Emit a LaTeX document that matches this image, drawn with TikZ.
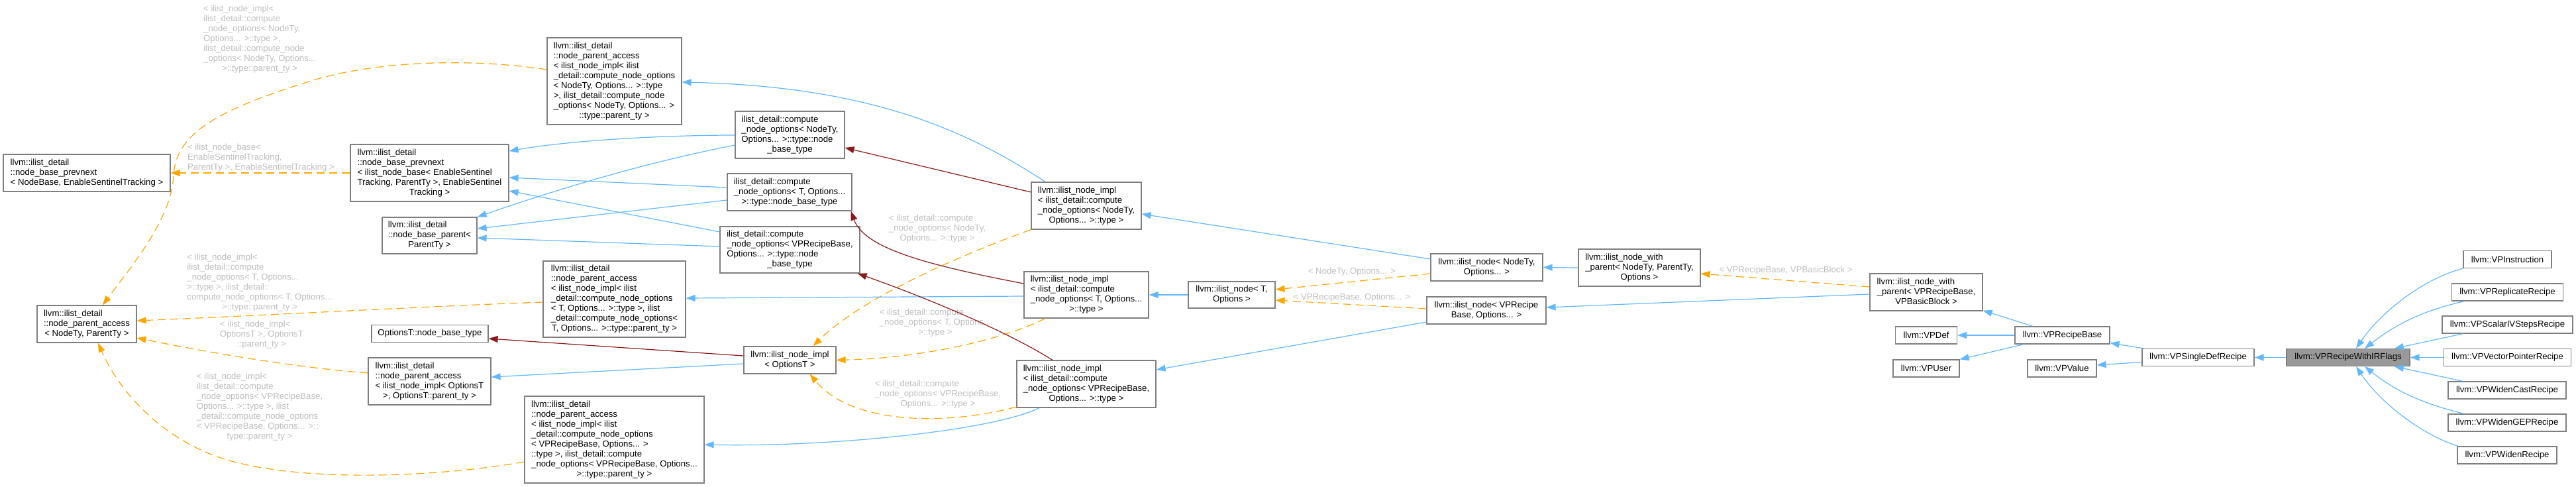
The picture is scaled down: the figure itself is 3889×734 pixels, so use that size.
\documentclass[tikz,border=0pt]{standalone}
\usepackage{fontspec}
\setmainfont{Liberation Sans}
\usetikzlibrary{arrows.meta,calc}
\definecolor{pubblue}{HTML}{63B8FF}
\definecolor{privred}{HTML}{8B1A1A}
\definecolor{tplorange}{HTML}{FFA500}
\definecolor{boxgray}{HTML}{7F7F7F}
\definecolor{rootfill}{HTML}{999999}
\definecolor{labgray}{HTML}{BEBEBE}
\newcommand{\dfont}{\fontsize{13.2}{15}\selectfont}
\newcommand{\mytab}[1]{\begin{tabular}{@{}l@{}}#1\end{tabular}}
\newcommand{\lcen}[1]{\multicolumn{1}{@{}c@{}}{#1}}
\tikzset{
  cls/.style={draw=boxgray, fill=white, line width=1.2pt, font=\dfont, inner sep=0pt, text=black},
  rootcls/.style={cls, fill=rootfill},
  lab/.style={font=\dfont, text=labgray, inner sep=0pt},
  pub/.style={draw=pubblue, line width=1.2pt, -{Triangle[length=14pt,width=10pt]}},
  priv/.style={draw=privred, line width=1.2pt, -{Triangle[length=14pt,width=10pt]}},
  tpl/.style={draw=tplorange, line width=1.2pt, dash pattern=on 12pt off 7pt, -{Triangle[length=14pt,width=10pt]}}
}
\begin{document}
\begin{tikzpicture}[x=1pt,y=-1pt]
\fill[white] (0,0) rectangle (3889,734);
\path[use as bounding box] (0,0) rectangle (3889,734);

% ---------- nodes ----------
\node[cls,minimum width=252,minimum height=56] (pn0) at (131,261) {\mytab{llvm::ilist\_detail\\::node\_base\_prevnext\\\lcen{< NodeBase, EnableSentinelTracking >}}};
\node[cls,minimum width=150,minimum height=56] (npa0) at (131,489) {\mytab{llvm::ilist\_detail\\::node\_parent\_access\\\lcen{< NodeTy, ParentTy >}}};
\node[cls,minimum width=239,minimum height=86] (pnI) at (648.5,261) {\mytab{llvm::ilist\_detail\\::node\_base\_prevnext\\< ilist\_node\_base< EnableSentinel\\Tracking, ParentTy >, EnableSentinel\\\lcen{Tracking >}}};
\node[cls,minimum width=143,minimum height=55] (nbp) at (648.5,355.5) {\mytab{llvm::ilist\_detail\\::node\_base\_parent<\\\lcen{ParentTy >}}};
\node[cls,minimum width=176,minimum height=26] (onbt) at (649,503.5) {OptionsT::node\_base\_type};
\node[cls,minimum width=185,minimum height=71] (npaO) at (648.5,575.5) {\mytab{llvm::ilist\_detail\\::node\_parent\_access\\< ilist\_node\_impl< OptionsT\\\lcen{>, OptionsT::parent\_ty >}}};
\node[cls,minimum width=203,minimum height=131] (npaN) at (927.5,122.5) {\mytab{llvm::ilist\_detail\\::node\_parent\_access\\< ilist\_node\_impl< ilist\\\_detail::compute\_node\_options\\< NodeTy, Options... >::type\\ >, ilist\_detail::compute\_node\\\_options< NodeTy, Options... >\\\lcen{::type::parent\_ty >}}};
\node[cls,minimum width=215,minimum height=115] (npaT) at (927.5,451.5) {\mytab{llvm::ilist\_detail\\::node\_parent\_access\\< ilist\_node\_impl< ilist\\\_detail::compute\_node\_options\\< T, Options... >::type >, ilist\\\_detail::compute\_node\_options<\\\lcen{T, Options... >::type::parent\_ty >}}};
\node[cls,minimum width=271,minimum height=131] (npaV) at (927.5,663.5) {\mytab{llvm::ilist\_detail\\::node\_parent\_access\\< ilist\_node\_impl< ilist\\\_detail::compute\_node\_options\\< VPRecipeBase, Options... >\\::type >, ilist\_detail::compute\\\_node\_options< VPRecipeBase, Options...\\\lcen{>::type::parent\_ty >}}};
\node[cls,minimum width=165,minimum height=71] (nbtN) at (1192.5,203.5) {\mytab{ilist\_detail::compute\\\_node\_options< NodeTy,\\Options... >::type::node\\\lcen{\_base\_type}}};
\node[cls,minimum width=188,minimum height=56] (nbtT) at (1192,290) {\mytab{ilist\_detail::compute\\\_node\_options< T, Options...\\\lcen{>::type::node\_base\_type}}};
\node[cls,minimum width=211,minimum height=70] (nbtV) at (1192.5,377) {\mytab{ilist\_detail::compute\\\_node\_options< VPRecipeBase,\\Options... >::type::node\\\lcen{\_base\_type}}};
\node[cls,minimum width=139,minimum height=41] (implO) at (1192.5,543.5) {\mytab{llvm::ilist\_node\_impl\\\lcen{< OptionsT >}}};
\node[cls,minimum width=166,minimum height=71] (implN) at (1640,310.5) {\mytab{llvm::ilist\_node\_impl\\< ilist\_detail::compute\\\_node\_options< NodeTy,\\\lcen{Options... >::type >}}};
\node[cls,minimum width=188,minimum height=70] (implT) at (1640,445) {\mytab{llvm::ilist\_node\_impl\\< ilist\_detail::compute\\\_node\_options< T, Options...\\\lcen{>::type >}}};
\node[cls,minimum width=210,minimum height=71] (implV) at (1640,579.5) {\mytab{llvm::ilist\_node\_impl\\< ilist\_detail::compute\\\_node\_options< VPRecipeBase,\\\lcen{Options... >::type >}}};
\node[cls,minimum width=131,minimum height=40] (nodeT) at (1859.5,445) {\mytab{llvm::ilist\_node< T,\\\lcen{Options >}}};
\node[cls,minimum width=169,minimum height=41] (nodeN) at (2244.5,403.5) {\mytab{llvm::ilist\_node< NodeTy,\\\lcen{Options... >}}};
\node[cls,minimum width=180,minimum height=41] (nodeV) at (2244,468.5) {\mytab{llvm::ilist\_node< VPRecipe\\\lcen{Base, Options... >}}};
\node[cls,minimum width=184,minimum height=56] (nwpT) at (2475,404) {\mytab{llvm::ilist\_node\_with\\\_parent< NodeTy, ParentTy,\\\lcen{Options >}}};
\node[cls,minimum width=170,minimum height=56] (nwpV) at (2908,441) {\mytab{llvm::ilist\_node\_with\\\_parent< VPRecipeBase,\\\lcen{VPBasicBlock >}}};
\node[cls,minimum width=93,minimum height=26] (vpdef) at (2908,506) {llvm::VPDef};
\node[cls,minimum width=100,minimum height=26] (vpuser) at (2908,556) {llvm::VPUser};
\node[cls,minimum width=143,minimum height=26] (vprb) at (3113.5,506) {llvm::VPRecipeBase};
\node[cls,minimum width=104,minimum height=26] (vpvalue) at (3113,556) {llvm::VPValue};
\node[cls,minimum width=169,minimum height=26] (vpsdr) at (3318.5,539.5) {llvm::VPSingleDefRecipe};
\node[rootcls,minimum width=186,minimum height=26] (vprwirf) at (3545,539.5) {llvm::VPRecipeWithIRFlags};
\node[cls,minimum width=133,minimum height=26] (c1) at (3785.5,391.5) {llvm::VPInstruction};
\node[cls,minimum width=168,minimum height=26] (c2) at (3785.5,441) {llvm::VPReplicateRecipe};
\node[cls,minimum width=197,minimum height=26] (c3) at (3785.5,490) {llvm::VPScalarIVStepsRecipe};
\node[cls,minimum width=192,minimum height=26] (c4) at (3785.5,539.5) {llvm::VPVectorPointerRecipe};
\node[cls,minimum width=178,minimum height=26] (c5) at (3785,589) {llvm::VPWidenCastRecipe};
\node[cls,minimum width=178,minimum height=26] (c6) at (3785,638) {llvm::VPWidenGEPRecipe};
\node[cls,minimum width=150,minimum height=26] (c7) at (3785,687) {llvm::VPWidenRecipe};

% ---------- edge labels ----------
\node[lab] (l1) at (392,59) {\mytab{< ilist\_node\_impl<\\ilist\_detail::compute\\\_node\_options< NodeTy,\\Options... >::type >,\\ilist\_detail::compute\_node\\\_options< NodeTy, Options...\\\lcen{>::type::parent\_ty >}}};
\node[lab] (l2) at (394,238) {\mytab{< ilist\_node\_base<\\EnableSentinelTracking,\\\lcen{ParentTy >, EnableSentinelTracking >}}};
\node[lab] (l3) at (392,427) {\mytab{< ilist\_node\_impl<\\ilist\_detail::compute\\\_node\_options< T, Options...\\>::type >, ilist\_detail::\\compute\_node\_options< T, Options...\\\lcen{>::type::parent\_ty >}}};
\node[lab] (l4) at (395,505) {\mytab{< ilist\_node\_impl<\\OptionsT >, OptionsT\\\lcen{::parent\_ty >}}};
\node[lab] (l5) at (392,614) {\mytab{< ilist\_node\_impl<\\ilist\_detail::compute\\\_node\_options< VPRecipeBase,\\Options... >::type >, ilist\\\_detail::compute\_node\_options\\< VPRecipeBase, Options... >::\\\lcen{type::parent\_ty >}}};
\node[lab] (l20) at (1415,345) {\mytab{< ilist\_detail::compute\\\_node\_options< NodeTy,\\\lcen{Options... >::type >}}};
\node[lab] (l21) at (1412,487) {\mytab{< ilist\_detail::compute\\\_node\_options< T, Options...\\\lcen{>::type >}}};
\node[lab] (l22) at (1416,595) {\mytab{< ilist\_detail::compute\\\_node\_options< VPRecipeBase,\\\lcen{Options... >::type >}}};
\node[lab] (l25) at (2041,410) {< NodeTy, Options... >};
\node[lab] (l26) at (2041,449) {< VPRecipeBase, Options... >};
\node[lab] (l29) at (2696,408) {< VPRecipeBase, VPBasicBlock >};

% ---------- template instance edges (orange dashed) ----------
\draw[tpl] ($(npaN.west)+(0,-17.5)$) .. controls (700,86) and (560,94) .. (470,122)
  .. controls (320,168) and (265,205) .. (262,265)
  .. controls (259,330) and (200,400) .. ($(npa0.north)+(24,0)$);
\draw[tpl] (pnI.west) -- (pn0.east);
\draw[tpl] ($(npaT.west)+(0,4.5)$) .. controls (650,462) and (400,476) .. ($(npa0.east)+(0,-5)$);
\draw[tpl] ($(npaO.west)+(0,-12.5)$) .. controls (450,555) and (320,533) .. ($(npa0.east)+(0,21)$);
\draw[tpl] ($(npaV.west)+(0,33.5)$) .. controls (650,722) and (440,728) .. (330,690)
  .. controls (240,658) and (180,590) .. ($(npa0.south)+(17,0)$);
\draw[tpl] (implN.south west) .. controls (1450,385) and (1300,450) .. ($(implO.north)+(35,0)$);
\draw[tpl] ($(implT.south)+(-62,0)$) .. controls (1520,510) and (1400,540) .. (implO.east);
\draw[tpl] ($(implV.west)+(0,34.5)$) .. controls (1440,640) and (1290,645) .. ($(implO.south)+(30,0)$);
\draw[tpl] ($(nodeN.west)+(0,9.5)$) -- ($(nodeT.east)+(0,-8)$);
\draw[tpl] ($(nodeV.west)+(0,-2.5)$) -- ($(nodeT.east)+(0,8)$);
\draw[tpl] ($(nwpV.west)+(0,-8)$) -- ($(nwpT.east)+(0,9)$);

% ---------- public inheritance (blue) ----------
\draw[pub] ($(nbtN.west)+(0,0.5)$) .. controls (1000,204) and (860,212) .. ($(pnI.east)+(0,-33)$);
\draw[pub] ($(nbtN.west)+(0,15.5)$) .. controls (950,250) and (800,300) .. (nbp.north east);
\draw[pub] ($(nbtT.west)+(0,-7)$) -- ($(pnI.east)+(0,7)$);
\draw[pub] ($(nbtT.west)+(0,12)$) -- ($(nbp.east)+(0,-10.5)$);
\draw[pub] ($(nbtV.west)+(0,-27)$) -- ($(pnI.east)+(0,27)$);
\draw[pub] ($(nbtV.west)+(0,-5)$) -- ($(nbp.east)+(0,3.5)$);
\draw[pub] ($(implN.north)+(-62,0)$) .. controls (1450,190) and (1300,130) .. ($(npaN.east)+(0,1.5)$);
\draw[pub] ($(implO.west)+(0,5.5)$) -- ($(npaO.east)+(0,-6.5)$);
\draw[pub] ($(implT.west)+(0,2)$) -- ($(npaT.east)+(0,-1.5)$);
\draw[pub] ($(implV.south)+(-71,0)$) .. controls (1500,650) and (1250,675) .. ($(npaV.east)+(0,7.5)$);
\draw[pub] ($(nodeN.west)+(0,-12.5)$) -- ($(implN.east)+(0,12.5)$);
\draw[pub] (nodeT.west) -- (implT.east);
\draw[pub] ($(nodeV.west)+(0,17.5)$) -- ($(implV.east)+(0,-21.5)$);
\draw[pub] (nwpT.west) -- (nodeN.east);
\draw[pub] ($(nwpV.west)+(0,3)$) -- ($(nodeV.east)+(0,-4.5)$);
\draw[pub] ($(vprb.north)+(-44.5,0)$) -- ($(nwpV.south east)+(0,-1)$);
\draw[pub] (vprb.west) -- (vpdef.east);
\draw[pub] ($(vprb.south west)+(14,0)$) -- (vpuser.north east);
\draw[pub] ($(vpsdr.north west)+(3,0)$) -- ($(vprb.south east)+(0,-2)$);
\draw[pub] ($(vpsdr.west)+(0,7)$) -- ($(vpvalue.east)+(0,-5)$);
\draw[pub] (vprwirf.west) -- (vpsdr.east);
\draw[pub] (c1.south west) .. controls (3660,420) and (3595,470) .. ($(vprwirf.north)+(12,0)$);
\draw[pub] ($(c2.south west)+(20,0)$) .. controls (3650,470) and (3610,495) .. ($(vprwirf.north)+(25,0)$);
\draw[pub] ($(c3.south west)+(32,0)$) -- ($(vprwirf.north)+(70,0)$);
\draw[pub] (c4.west) -- (vprwirf.east);
\draw[pub] ($(c5.north west)+(23,0)$) -- ($(vprwirf.south)+(70,0)$);
\draw[pub] ($(c6.north west)+(25,0)$) .. controls (3650,608) and (3610,585) .. ($(vprwirf.south)+(25,0)$);
\draw[pub] ($(c7.north west)+(2,0)$) .. controls (3660,658) and (3595,610) .. ($(vprwirf.south)+(12,0)$);

% ---------- private inheritance (dark red) ----------
\draw[priv] ($(implN.west)+(0,-20.5)$) -- ($(nbtN.east)+(0,19.5)$);
\draw[priv] ($(implT.west)+(0,-17)$) .. controls (1400,400) and (1305,375) .. ($(nbtT.south east)+(-2,0)$);
\draw[priv] ($(implV.north)+(-51,0)$) .. controls (1520,500) and (1400,450) .. ($(nbtV.south east)+(-4,0)$);
\draw[priv] ($(implO.west)+(0,-6.5)$) -- ($(onbt.east)+(0,7.5)$);
\end{tikzpicture}
\end{document}
